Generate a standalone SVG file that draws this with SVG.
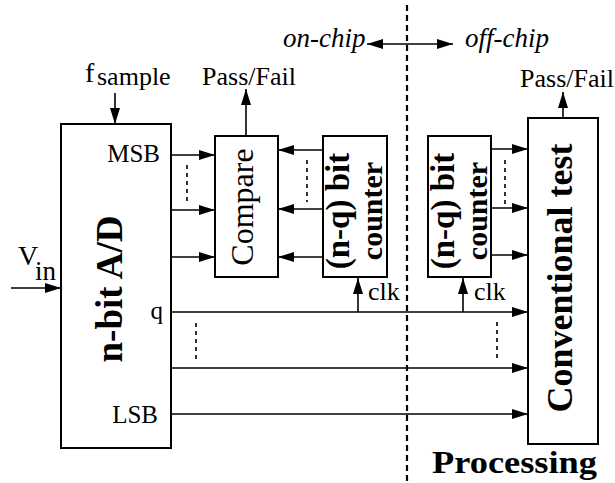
<svg xmlns="http://www.w3.org/2000/svg" width="615" height="483" viewBox="0 0 615 483" font-family="'Liberation Serif', 'DejaVu Serif', serif">
<style>
.box{fill:#fff;stroke:#000;stroke-width:2}
.arr{stroke:#000;stroke-width:1.6;fill:none;marker-end:url(#ah)}
.dot{stroke:#000;stroke-width:1.6;stroke-dasharray:4 4;fill:none}
.div{stroke:#000;stroke-width:2.2;stroke-dasharray:6 4;fill:none}
text{font-family:'Liberation Serif','DejaVu Serif',serif;fill:#000}
.b{font-weight:bold}
.i{font-style:italic}
</style>
<defs>
<marker id="ah" viewBox="0 0 16 10" refX="16" refY="5" markerWidth="16" markerHeight="10" orient="auto-start-reverse" markerUnits="userSpaceOnUse">
<path d="M0,0 L16,5 L0,10 z" fill="#000"/>
</marker>
</defs>
<rect width="615" height="483" fill="#fff"/>

<g id="connectors">
<line class="div" x1="407" y1="5" x2="407" y2="483"/>
<line class="arr" x1="367" y1="44" x2="453" y2="44" marker-start="url(#ah)"/>
<line class="arr" x1="115" y1="93" x2="115" y2="124"/>
<line class="arr" x1="11" y1="288" x2="61" y2="288"/>
<line class="arr" x1="246" y1="136" x2="246" y2="89"/>
<line class="arr" x1="563" y1="118" x2="563" y2="92"/>
<line class="arr" x1="171" y1="155" x2="215" y2="155"/>
<line class="arr" x1="171" y1="210" x2="215" y2="210"/>
<line class="arr" x1="171" y1="257" x2="215" y2="257"/>
<line class="dot" x1="187" y1="165" x2="187" y2="205"/>
<line class="arr" x1="323" y1="150" x2="278" y2="150"/>
<line class="arr" x1="323" y1="209" x2="278" y2="209"/>
<line class="arr" x1="323" y1="257" x2="278" y2="257"/>
<line class="dot" x1="307" y1="160" x2="307" y2="202"/>
<line class="arr" x1="491" y1="149" x2="528" y2="149"/>
<line class="arr" x1="491" y1="208" x2="528" y2="208"/>
<line class="arr" x1="491" y1="255" x2="528" y2="255"/>
<line class="dot" x1="505" y1="160" x2="505" y2="204"/>
<line class="arr" x1="171" y1="312" x2="528" y2="312"/>
<line class="arr" x1="171" y1="368" x2="528" y2="368"/>
<line class="arr" x1="171" y1="414" x2="528" y2="414"/>
<line class="dot" x1="196" y1="323" x2="196" y2="362"/>
<line class="dot" x1="497" y1="322" x2="497" y2="360"/>
<line class="arr" x1="358" y1="312" x2="358" y2="278"/>
<line class="arr" x1="463" y1="312" x2="463" y2="278"/>
</g>

<g id="labels">
<text class="i" x="283" y="47" font-size="27">on-chip</text>
<text class="i" x="465" y="47" font-size="27">off-chip</text>
<text x="85" y="82" font-size="28">f</text>
<text x="97" y="85" font-size="26">sample</text>
<text x="18" y="265" font-size="28">V</text>
<text x="35" y="280" font-size="27">in</text>
<text x="249" y="85" font-size="26" text-anchor="middle">Pass/Fail</text>
<text x="567" y="87" font-size="26" text-anchor="middle">Pass/Fail</text>
<text x="368" y="300" font-size="26">clk</text>
<text x="474" y="300" font-size="26">clk</text>
<text class="b" x="432" y="473" font-size="32" textLength="165" lengthAdjust="spacingAndGlyphs">Processing</text>
</g>

<g id="adc">
<rect class="box" x="61" y="124" width="110" height="324"/>
<text x="160" y="162" font-size="25" text-anchor="end">MSB</text>
<text x="163" y="319" font-size="25" text-anchor="end">q</text>
<text x="158" y="423" font-size="25" text-anchor="end">LSB</text>
<text class="b" transform="translate(122,289) rotate(-90)" font-size="37" text-anchor="middle">n-bit A/D</text>
</g>

<g id="compare">
<rect class="box" x="215" y="136" width="63" height="141"/>
<text transform="translate(253,207) rotate(-90)" font-size="32" text-anchor="middle">Compare</text>
</g>

<g id="counter1">
<rect class="box" x="323" y="136" width="64" height="141"/>
<text class="b" transform="translate(349,211) rotate(-90)" font-size="33" text-anchor="middle">(n-q) bit</text>
<text class="b" transform="translate(382,211) rotate(-90)" font-size="30" text-anchor="middle">counter</text>
</g>

<g id="counter2">
<rect class="box" x="428" y="136" width="63" height="141"/>
<text class="b" transform="translate(454,211) rotate(-90)" font-size="33" text-anchor="middle">(n-q) bit</text>
<text class="b" transform="translate(487,211) rotate(-90)" font-size="30" text-anchor="middle">counter</text>
</g>

<g id="conventional">
<rect class="box" x="528" y="118" width="70" height="326"/>
<text class="b" transform="translate(572,278) rotate(-90)" font-size="36" text-anchor="middle">Conventional test</text>
</g>
</svg>
